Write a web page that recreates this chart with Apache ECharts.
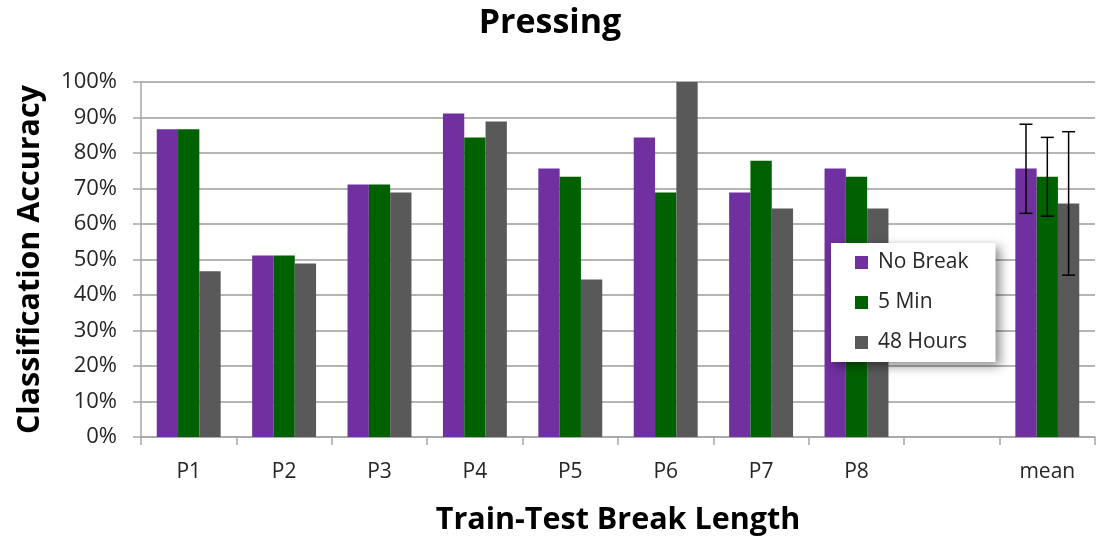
<!DOCTYPE html>
<html><head><meta charset="utf-8">
<script src="https://cdn.jsdelivr.net/npm/echarts@6/dist/echarts.min.js"></script>
<style>html,body{margin:0;padding:0;background:#fff}#c{width:1100px;height:537px}</style>
</head><body><div id="c"></div>
<script>
const categories = ['P1', 'P2', 'P3', 'P4', 'P5', 'P6', 'P7', 'P8', '', 'mean'];
const seriesNames = ['No Break', '5 Min', '48 Hours'];
const noBreak = [86.7, 51.1, 71.1, 91.1, 75.6, 84.4, 68.9, 75.6, null, 75.6];
const fiveMin = [86.7, 51.1, 71.1, 84.4, 73.3, 68.9, 77.8, 73.3, null, 73.3];
const hours48 = [46.7, 48.9, 68.9, 88.9, 44.4, 100, 64.4, 64.4, null, 65.8];
const errCategory = 'mean';
const errLow = [63.0, 62.2, 45.6];
const errHigh = [88.1, 84.4, 86.0];
const yMin = 0, yMax = 100, yInterval = 10;
const colors = ['#7030A0', '#006100', '#595959'];

const FONT = 'Open Sans';
const catGap = 0.33;
const errIdx = categories.indexOf(errCategory);
const errData = errLow.map((lo, k) => [errIdx, lo, errHigh[k], k]);

const chart = echarts.init(document.getElementById('c'), null, {renderer: 'canvas'});
chart.setOption({
  animation: false,
  backgroundColor: '#fff',
  textStyle: {fontFamily: FONT},
  title: {
    text: 'Pressing', left: 'center', top: 6, padding: 0,
    textStyle: {fontFamily: FONT, fontWeight: 'bold', fontSize: 34, color: '#000'}
  },
  grid: {left: 141, right: 5, top: 82, bottom: 100, containLabel: false, outerBoundsMode: 'none'},
  legend: {
    data: seriesNames, orient: 'vertical', left: 831, top: 243,
    itemWidth: 13, itemHeight: 13, icon: 'rect', itemGap: 19,
    padding: [9, 27, 9, 24],
    backgroundColor: '#fff',
    shadowBlur: 10, shadowOffsetX: 4, shadowOffsetY: 4, shadowColor: 'rgba(0,0,0,0.45)',
    textStyle: {fontFamily: FONT, fontSize: 21, color: '#262626', padding: [0, 0, 0, 5]}
  },
  xAxis: {
    type: 'category', data: categories,
    name: 'Train-Test Break Length', nameLocation: 'middle', nameGap: 68,
    nameTextStyle: {fontFamily: FONT, fontWeight: 'bold', fontSize: 30.5, color: '#000'},
    axisLine: {lineStyle: {color: '#a6a6a6', width: 1.5}},
    axisTick: {show: true, length: 8, interval: 0, lineStyle: {color: '#a6a6a6', width: 1.5}},
    axisLabel: {fontFamily: FONT, fontSize: 21, color: '#262626', margin: 25, interval: 0}
  },
  yAxis: {
    type: 'value', min: yMin, max: yMax, interval: yInterval,
    name: 'Classification Accuracy', nameLocation: 'middle', nameGap: 95, nameRotate: 90,
    nameTextStyle: {fontFamily: FONT, fontWeight: 'bold', fontSize: 30.5, color: '#000'},
    axisLine: {show: true, lineStyle: {color: '#a6a6a6', width: 1.5}},
    axisTick: {show: true, length: 8, lineStyle: {color: '#a6a6a6', width: 1.5}},
    axisLabel: {fontFamily: FONT, fontSize: 22, color: '#262626', margin: 24, formatter: '{value}%'},
    splitLine: {lineStyle: {color: '#b4b4b4', width: 2}}
  },
  series: [
    {name: seriesNames[0], type: 'bar', data: noBreak, itemStyle: {color: colors[0]}, barGap: '0%', barCategoryGap: (catGap * 100) + '%'},
    {name: seriesNames[1], type: 'bar', data: fiveMin, itemStyle: {color: colors[1]}, barGap: '0%', barCategoryGap: (catGap * 100) + '%'},
    {name: seriesNames[2], type: 'bar', data: hours48, itemStyle: {color: colors[2]}, barGap: '0%', barCategoryGap: (catGap * 100) + '%'},
    {
      type: 'custom', data: errData, z: 10, silent: true,
      encode: {x: 0, y: [1, 2]},
      renderItem: function (params, api) {
        const cat = api.value(0), lo = api.value(1), hi = api.value(2), k = api.value(3);
        const band = api.size([1, 0])[0];
        const barW = band * (1 - catGap) / 3;
        const cx = api.coord([cat, 0])[0] + (k - 1) * barW;
        const yT = api.coord([cat, hi])[1], yB = api.coord([cat, lo])[1];
        const cap = 6.5;
        const st = {stroke: '#000', lineWidth: 1.5};
        return {type: 'group', children: [
          {type: 'line', shape: {x1: cx, y1: yT, x2: cx, y2: yB}, style: st},
          {type: 'line', shape: {x1: cx - cap, y1: yT, x2: cx + cap, y2: yT}, style: st},
          {type: 'line', shape: {x1: cx - cap, y1: yB, x2: cx + cap, y2: yB}, style: st}
        ]};
      }
    }
  ]
});
</script>
</body></html>
